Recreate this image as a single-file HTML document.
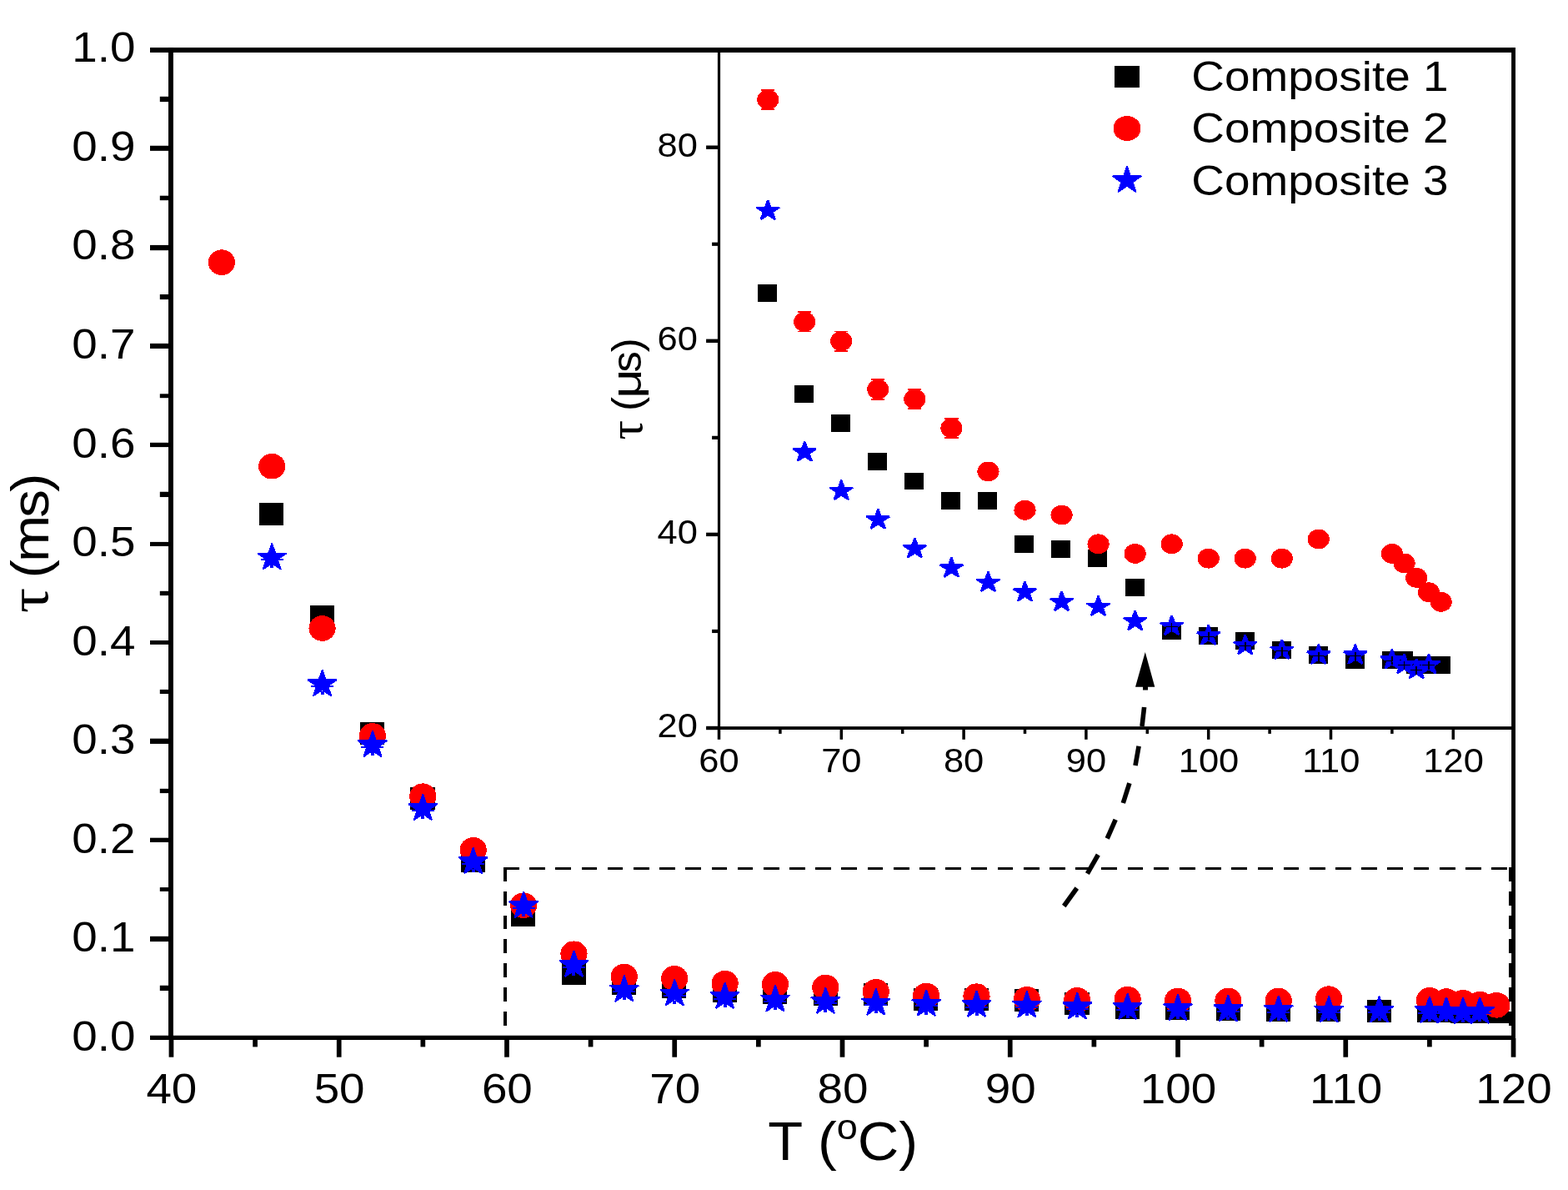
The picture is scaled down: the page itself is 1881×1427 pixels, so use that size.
<!DOCTYPE html>
<html lang="en">
<head>
<meta charset="utf-8">
<title>Relaxation time vs temperature</title>
<style>
html,body{margin:0;padding:0;background:#fff;}
body{width:1881px;height:1427px;overflow:hidden;}
svg{display:block;}
</style>
</head>
<body>
<svg width="1881" height="1427" viewBox="0 0 1881 1427">
<rect width="1881" height="1427" fill="#fff"/>
<g shape-rendering="crispEdges">
<rect x="311.36" y="602.81" width="29.10" height="27.00" fill="#000"/>
<rect x="371.73" y="725.75" width="29.10" height="27.00" fill="#000"/>
<rect x="432.11" y="865.51" width="29.10" height="27.00" fill="#000"/>
<rect x="492.49" y="943.80" width="29.10" height="27.00" fill="#000"/>
<rect x="552.87" y="1018.54" width="29.10" height="27.00" fill="#000"/>
<rect x="613.25" y="1084.03" width="29.10" height="27.00" fill="#000"/>
<rect x="673.62" y="1153.91" width="29.10" height="27.00" fill="#000"/>
<rect x="734.00" y="1166.35" width="29.10" height="27.00" fill="#000"/>
<rect x="794.38" y="1169.90" width="29.10" height="27.00" fill="#000"/>
<rect x="854.76" y="1174.64" width="29.10" height="27.00" fill="#000"/>
<rect x="915.14" y="1177.01" width="29.10" height="27.00" fill="#000"/>
<rect x="975.51" y="1179.38" width="29.10" height="27.00" fill="#000"/>
<rect x="1035.89" y="1179.38" width="29.10" height="27.00" fill="#000"/>
<rect x="1096.27" y="1184.71" width="29.10" height="27.00" fill="#000"/>
<rect x="1156.65" y="1185.30" width="29.10" height="27.00" fill="#000"/>
<rect x="1217.03" y="1186.49" width="29.10" height="27.00" fill="#000"/>
<rect x="1277.40" y="1190.04" width="29.10" height="27.00" fill="#000"/>
<rect x="1337.78" y="1195.37" width="29.10" height="27.00" fill="#000"/>
<rect x="1398.16" y="1195.96" width="29.10" height="27.00" fill="#000"/>
<rect x="1458.54" y="1196.55" width="29.10" height="27.00" fill="#000"/>
<rect x="1518.92" y="1197.74" width="29.10" height="27.00" fill="#000"/>
<rect x="1579.29" y="1198.33" width="29.10" height="27.00" fill="#000"/>
<rect x="1639.67" y="1198.92" width="29.10" height="27.00" fill="#000"/>
<rect x="1700.05" y="1198.92" width="29.10" height="27.00" fill="#000"/>
<rect x="1720.18" y="1198.92" width="29.10" height="27.00" fill="#000"/>
<rect x="1740.30" y="1199.51" width="29.10" height="27.00" fill="#000"/>
<rect x="1760.43" y="1199.51" width="29.10" height="27.00" fill="#000"/>
<rect x="1780.55" y="1199.51" width="29.10" height="27.00" fill="#000"/>
<ellipse cx="265.83" cy="314.65" rx="16.10" ry="15.30" fill="#ff0000"/>
<ellipse cx="326.21" cy="559.22" rx="16.10" ry="15.30" fill="#ff0000"/>
<ellipse cx="386.58" cy="753.47" rx="16.10" ry="15.30" fill="#ff0000"/>
<ellipse cx="446.96" cy="882.45" rx="16.10" ry="15.30" fill="#ff0000"/>
<ellipse cx="507.34" cy="954.70" rx="16.10" ry="15.30" fill="#ff0000"/>
<ellipse cx="567.72" cy="1019.36" rx="16.10" ry="15.30" fill="#ff0000"/>
<ellipse cx="628.10" cy="1085.69" rx="16.10" ry="15.30" fill="#ff0000"/>
<ellipse cx="688.47" cy="1143.73" rx="16.10" ry="15.30" fill="#ff0000"/>
<ellipse cx="748.85" cy="1170.97" rx="16.10" ry="15.30" fill="#ff0000"/>
<ellipse cx="809.23" cy="1173.34" rx="16.10" ry="15.30" fill="#ff0000"/>
<ellipse cx="869.61" cy="1179.26" rx="16.10" ry="15.30" fill="#ff0000"/>
<ellipse cx="929.99" cy="1180.44" rx="16.10" ry="15.30" fill="#ff0000"/>
<ellipse cx="990.36" cy="1184.00" rx="16.10" ry="15.30" fill="#ff0000"/>
<ellipse cx="1050.74" cy="1189.33" rx="16.10" ry="15.30" fill="#ff0000"/>
<ellipse cx="1111.12" cy="1194.06" rx="16.10" ry="15.30" fill="#ff0000"/>
<ellipse cx="1171.50" cy="1194.66" rx="16.10" ry="15.30" fill="#ff0000"/>
<ellipse cx="1231.88" cy="1198.21" rx="16.10" ry="15.30" fill="#ff0000"/>
<ellipse cx="1292.25" cy="1199.39" rx="16.10" ry="15.30" fill="#ff0000"/>
<ellipse cx="1352.63" cy="1198.21" rx="16.10" ry="15.30" fill="#ff0000"/>
<ellipse cx="1413.01" cy="1199.99" rx="16.10" ry="15.30" fill="#ff0000"/>
<ellipse cx="1473.39" cy="1199.99" rx="16.10" ry="15.30" fill="#ff0000"/>
<ellipse cx="1533.77" cy="1199.99" rx="16.10" ry="15.30" fill="#ff0000"/>
<ellipse cx="1594.14" cy="1197.62" rx="16.10" ry="15.30" fill="#ff0000"/>
<ellipse cx="1714.90" cy="1199.39" rx="16.10" ry="15.30" fill="#ff0000"/>
<ellipse cx="1735.03" cy="1200.58" rx="16.10" ry="15.30" fill="#ff0000"/>
<ellipse cx="1755.15" cy="1202.35" rx="16.10" ry="15.30" fill="#ff0000"/>
<ellipse cx="1775.28" cy="1204.13" rx="16.10" ry="15.30" fill="#ff0000"/>
<ellipse cx="1795.40" cy="1205.31" rx="16.10" ry="15.30" fill="#ff0000"/>
<polygon points="326.21,651.58 330.31,663.47 343.61,663.47 332.85,670.81 336.96,682.70 326.21,675.35 315.45,682.70 319.56,670.81 308.80,663.47 322.10,663.47" fill="#0000ff" stroke="#0000ff" stroke-width="1.75" stroke-linejoin="bevel"/>
<rect x="312.71" y="670.08" width="27.00" height="2.00" fill="#0000ff"/>
<rect x="324.21" y="676.78" width="4.00" height="4.40" fill="#0000ff"/>
<polygon points="386.58,803.42 390.69,815.31 403.99,815.31 393.23,822.65 397.34,834.54 386.58,827.19 375.83,834.54 379.94,822.65 369.18,815.31 382.48,815.31" fill="#0000ff" stroke="#0000ff" stroke-width="1.75" stroke-linejoin="bevel"/>
<rect x="373.08" y="821.92" width="27.00" height="2.00" fill="#0000ff"/>
<rect x="384.58" y="828.62" width="4.00" height="4.40" fill="#0000ff"/>
<polygon points="446.96,876.26 451.07,888.15 464.37,888.15 453.61,895.49 457.72,907.38 446.96,900.03 436.21,907.38 440.31,895.49 429.56,888.15 442.85,888.15" fill="#0000ff" stroke="#0000ff" stroke-width="1.75" stroke-linejoin="bevel"/>
<rect x="433.46" y="894.76" width="27.00" height="2.00" fill="#0000ff"/>
<rect x="444.96" y="901.46" width="4.00" height="4.40" fill="#0000ff"/>
<polygon points="507.34,952.18 511.45,964.07 524.74,964.07 513.99,971.41 518.10,983.30 507.34,975.95 496.58,983.30 500.69,971.41 489.94,964.07 503.23,964.07" fill="#0000ff" stroke="#0000ff" stroke-width="1.75" stroke-linejoin="bevel"/>
<rect x="493.84" y="970.68" width="27.00" height="2.00" fill="#0000ff"/>
<rect x="505.34" y="977.38" width="4.00" height="4.40" fill="#0000ff"/>
<polygon points="567.72,1016.38 571.83,1028.26 585.12,1028.26 574.37,1035.61 578.47,1047.49 567.72,1040.15 556.96,1047.49 561.07,1035.61 550.31,1028.26 563.61,1028.26" fill="#0000ff" stroke="#0000ff" stroke-width="1.75" stroke-linejoin="bevel"/>
<rect x="554.22" y="1034.88" width="27.00" height="2.00" fill="#0000ff"/>
<rect x="565.72" y="1041.58" width="4.00" height="4.40" fill="#0000ff"/>
<polygon points="628.10,1069.20 632.20,1081.09 645.50,1081.09 634.74,1088.43 638.85,1100.32 628.10,1092.97 617.34,1100.32 621.45,1088.43 610.69,1081.09 623.99,1081.09" fill="#0000ff" stroke="#0000ff" stroke-width="1.75" stroke-linejoin="bevel"/>
<rect x="614.60" y="1087.70" width="27.00" height="2.00" fill="#0000ff"/>
<rect x="626.10" y="1094.40" width="4.00" height="4.40" fill="#0000ff"/>
<polygon points="688.47,1140.15 692.58,1152.03 705.88,1152.03 695.12,1159.38 699.23,1171.26 688.47,1163.92 677.72,1171.26 681.83,1159.38 671.07,1152.03 684.37,1152.03" fill="#0000ff" stroke="#0000ff" stroke-width="1.75" stroke-linejoin="bevel"/>
<rect x="674.97" y="1158.65" width="27.00" height="2.00" fill="#0000ff"/>
<rect x="686.47" y="1165.35" width="4.00" height="4.40" fill="#0000ff"/>
<polygon points="748.85,1169.76 752.96,1181.64 766.26,1181.64 755.50,1188.99 759.61,1200.87 748.85,1193.53 738.10,1200.87 742.20,1188.99 731.45,1181.64 744.74,1181.64" fill="#0000ff" stroke="#0000ff" stroke-width="1.75" stroke-linejoin="bevel"/>
<rect x="735.35" y="1188.26" width="27.00" height="2.00" fill="#0000ff"/>
<rect x="746.85" y="1194.96" width="4.00" height="4.40" fill="#0000ff"/>
<polygon points="809.23,1174.49 813.34,1186.38 826.63,1186.38 815.88,1193.72 819.99,1205.61 809.23,1198.26 798.47,1205.61 802.58,1193.72 791.83,1186.38 805.12,1186.38" fill="#0000ff" stroke="#0000ff" stroke-width="1.75" stroke-linejoin="bevel"/>
<rect x="795.73" y="1192.99" width="27.00" height="2.00" fill="#0000ff"/>
<rect x="807.23" y="1199.69" width="4.00" height="4.40" fill="#0000ff"/>
<polygon points="869.61,1178.05 873.72,1189.93 887.01,1189.93 876.26,1197.28 880.36,1209.16 869.61,1201.82 858.85,1209.16 862.96,1197.28 852.20,1189.93 865.50,1189.93" fill="#0000ff" stroke="#0000ff" stroke-width="1.75" stroke-linejoin="bevel"/>
<rect x="856.11" y="1196.55" width="27.00" height="2.00" fill="#0000ff"/>
<rect x="867.61" y="1203.25" width="4.00" height="4.40" fill="#0000ff"/>
<polygon points="929.99,1181.60 934.09,1193.49 947.39,1193.49 936.63,1200.83 940.74,1212.72 929.99,1205.37 919.23,1212.72 923.34,1200.83 912.58,1193.49 925.88,1193.49" fill="#0000ff" stroke="#0000ff" stroke-width="1.75" stroke-linejoin="bevel"/>
<rect x="916.49" y="1200.10" width="27.00" height="2.00" fill="#0000ff"/>
<rect x="927.99" y="1206.80" width="4.00" height="4.40" fill="#0000ff"/>
<polygon points="990.36,1183.97 994.47,1195.85 1007.77,1195.85 997.01,1203.20 1001.12,1215.08 990.36,1207.74 979.61,1215.08 983.72,1203.20 972.96,1195.85 986.26,1195.85" fill="#0000ff" stroke="#0000ff" stroke-width="1.75" stroke-linejoin="bevel"/>
<rect x="976.86" y="1202.47" width="27.00" height="2.00" fill="#0000ff"/>
<rect x="988.36" y="1209.17" width="4.00" height="4.40" fill="#0000ff"/>
<polygon points="1050.74,1185.75 1054.85,1197.63 1068.15,1197.63 1057.39,1204.98 1061.50,1216.86 1050.74,1209.52 1039.99,1216.86 1044.09,1204.98 1033.34,1197.63 1046.63,1197.63" fill="#0000ff" stroke="#0000ff" stroke-width="1.75" stroke-linejoin="bevel"/>
<rect x="1037.24" y="1204.25" width="27.00" height="2.00" fill="#0000ff"/>
<rect x="1048.74" y="1210.95" width="4.00" height="4.40" fill="#0000ff"/>
<polygon points="1111.12,1186.93 1115.23,1198.81 1128.52,1198.82 1117.77,1206.16 1121.88,1218.05 1111.12,1210.70 1100.36,1218.05 1104.47,1206.16 1093.72,1198.82 1107.01,1198.81" fill="#0000ff" stroke="#0000ff" stroke-width="1.75" stroke-linejoin="bevel"/>
<rect x="1097.62" y="1205.43" width="27.00" height="2.00" fill="#0000ff"/>
<rect x="1109.12" y="1212.13" width="4.00" height="4.40" fill="#0000ff"/>
<polygon points="1171.50,1188.11 1175.61,1200.00 1188.90,1200.00 1178.15,1207.35 1182.25,1219.23 1171.50,1211.89 1160.74,1219.23 1164.85,1207.35 1154.09,1200.00 1167.39,1200.00" fill="#0000ff" stroke="#0000ff" stroke-width="1.75" stroke-linejoin="bevel"/>
<rect x="1158.00" y="1206.61" width="27.00" height="2.00" fill="#0000ff"/>
<rect x="1169.50" y="1213.31" width="4.00" height="4.40" fill="#0000ff"/>
<polygon points="1231.88,1188.71 1235.98,1200.59 1249.28,1200.59 1238.52,1207.94 1242.63,1219.82 1231.88,1212.48 1221.12,1219.82 1225.23,1207.94 1214.47,1200.59 1227.77,1200.59" fill="#0000ff" stroke="#0000ff" stroke-width="1.75" stroke-linejoin="bevel"/>
<rect x="1218.38" y="1207.21" width="27.00" height="2.00" fill="#0000ff"/>
<rect x="1229.88" y="1213.91" width="4.00" height="4.40" fill="#0000ff"/>
<polygon points="1292.25,1190.48 1296.36,1202.37 1309.66,1202.37 1298.90,1209.71 1303.01,1221.60 1292.25,1214.25 1281.50,1221.60 1285.61,1209.71 1274.85,1202.37 1288.15,1202.37" fill="#0000ff" stroke="#0000ff" stroke-width="1.75" stroke-linejoin="bevel"/>
<rect x="1278.75" y="1208.98" width="27.00" height="2.00" fill="#0000ff"/>
<rect x="1290.25" y="1215.68" width="4.00" height="4.40" fill="#0000ff"/>
<polygon points="1352.63,1191.08 1356.74,1202.96 1370.04,1202.96 1359.28,1210.31 1363.39,1222.19 1352.63,1214.85 1341.88,1222.19 1345.98,1210.31 1335.23,1202.96 1348.52,1202.96" fill="#0000ff" stroke="#0000ff" stroke-width="1.75" stroke-linejoin="bevel"/>
<rect x="1339.13" y="1209.58" width="27.00" height="2.00" fill="#0000ff"/>
<rect x="1350.63" y="1216.28" width="4.00" height="4.40" fill="#0000ff"/>
<polygon points="1413.01,1192.26 1417.12,1204.14 1430.41,1204.15 1419.66,1211.49 1423.77,1223.38 1413.01,1216.03 1402.25,1223.38 1406.36,1211.49 1395.61,1204.15 1408.90,1204.14" fill="#0000ff" stroke="#0000ff" stroke-width="1.75" stroke-linejoin="bevel"/>
<rect x="1399.51" y="1210.76" width="27.00" height="2.00" fill="#0000ff"/>
<rect x="1411.01" y="1217.46" width="4.00" height="4.40" fill="#0000ff"/>
<polygon points="1473.39,1193.44 1477.50,1205.33 1490.79,1205.33 1480.04,1212.67 1484.14,1224.56 1473.39,1217.22 1462.63,1224.56 1466.74,1212.67 1455.98,1205.33 1469.28,1205.33" fill="#0000ff" stroke="#0000ff" stroke-width="1.75" stroke-linejoin="bevel"/>
<rect x="1459.89" y="1211.94" width="27.00" height="2.00" fill="#0000ff"/>
<rect x="1471.39" y="1218.64" width="4.00" height="4.40" fill="#0000ff"/>
<polygon points="1533.77,1194.04 1537.87,1205.92 1551.17,1205.92 1540.41,1213.27 1544.52,1225.15 1533.77,1217.81 1523.01,1225.15 1527.12,1213.27 1516.36,1205.92 1529.66,1205.92" fill="#0000ff" stroke="#0000ff" stroke-width="1.75" stroke-linejoin="bevel"/>
<rect x="1520.27" y="1212.54" width="27.00" height="2.00" fill="#0000ff"/>
<rect x="1531.77" y="1219.24" width="4.00" height="4.40" fill="#0000ff"/>
<polygon points="1594.14,1194.63 1598.25,1206.51 1611.55,1206.51 1600.79,1213.86 1604.90,1225.74 1594.14,1218.40 1583.39,1225.74 1587.50,1213.86 1576.74,1206.51 1590.04,1206.51" fill="#0000ff" stroke="#0000ff" stroke-width="1.75" stroke-linejoin="bevel"/>
<rect x="1580.64" y="1213.13" width="27.00" height="2.00" fill="#0000ff"/>
<rect x="1592.14" y="1219.83" width="4.00" height="4.40" fill="#0000ff"/>
<polygon points="1654.52,1194.63 1658.63,1206.51 1671.93,1206.51 1661.17,1213.86 1665.28,1225.74 1654.52,1218.40 1643.77,1225.74 1647.87,1213.86 1637.12,1206.51 1650.41,1206.51" fill="#0000ff" stroke="#0000ff" stroke-width="1.75" stroke-linejoin="bevel"/>
<rect x="1641.02" y="1213.13" width="27.00" height="2.00" fill="#0000ff"/>
<rect x="1652.52" y="1219.83" width="4.00" height="4.40" fill="#0000ff"/>
<polygon points="1714.90,1195.22 1719.01,1207.11 1732.30,1207.11 1721.55,1214.45 1725.66,1226.34 1714.90,1218.99 1704.14,1226.34 1708.25,1214.45 1697.50,1207.11 1710.79,1207.11" fill="#0000ff" stroke="#0000ff" stroke-width="1.75" stroke-linejoin="bevel"/>
<rect x="1701.40" y="1213.72" width="27.00" height="2.00" fill="#0000ff"/>
<rect x="1712.90" y="1220.42" width="4.00" height="4.40" fill="#0000ff"/>
<polygon points="1735.03,1195.81 1739.13,1207.70 1752.43,1207.70 1741.67,1215.04 1745.78,1226.93 1735.03,1219.58 1724.27,1226.93 1728.38,1215.04 1717.62,1207.70 1730.92,1207.70" fill="#0000ff" stroke="#0000ff" stroke-width="1.75" stroke-linejoin="bevel"/>
<rect x="1721.53" y="1214.31" width="27.00" height="2.00" fill="#0000ff"/>
<rect x="1733.03" y="1221.01" width="4.00" height="4.40" fill="#0000ff"/>
<polygon points="1755.15,1196.41 1759.26,1208.29 1772.56,1208.29 1761.80,1215.64 1765.91,1227.52 1755.15,1220.18 1744.40,1227.52 1748.50,1215.64 1737.75,1208.29 1751.04,1208.29" fill="#0000ff" stroke="#0000ff" stroke-width="1.75" stroke-linejoin="bevel"/>
<rect x="1741.65" y="1214.91" width="27.00" height="2.00" fill="#0000ff"/>
<rect x="1753.15" y="1221.61" width="4.00" height="4.40" fill="#0000ff"/>
<polygon points="1775.28,1195.81 1779.39,1207.70 1792.68,1207.70 1781.93,1215.04 1786.03,1226.93 1775.28,1219.58 1764.52,1226.93 1768.63,1215.04 1757.87,1207.70 1771.17,1207.70" fill="#0000ff" stroke="#0000ff" stroke-width="1.75" stroke-linejoin="bevel"/>
<rect x="1761.78" y="1214.31" width="27.00" height="2.00" fill="#0000ff"/>
<rect x="1773.28" y="1221.01" width="4.00" height="4.40" fill="#0000ff"/>
<rect x="604.00" y="1039.80" width="18.70" height="3.40" fill="#000"/>
<rect x="635.19" y="1039.80" width="18.70" height="3.40" fill="#000"/>
<rect x="666.38" y="1039.80" width="18.70" height="3.40" fill="#000"/>
<rect x="697.57" y="1039.80" width="18.70" height="3.40" fill="#000"/>
<rect x="728.76" y="1039.80" width="18.70" height="3.40" fill="#000"/>
<rect x="759.95" y="1039.80" width="18.70" height="3.40" fill="#000"/>
<rect x="791.14" y="1039.80" width="18.70" height="3.40" fill="#000"/>
<rect x="822.33" y="1039.80" width="18.70" height="3.40" fill="#000"/>
<rect x="853.52" y="1039.80" width="18.70" height="3.40" fill="#000"/>
<rect x="884.71" y="1039.80" width="18.70" height="3.40" fill="#000"/>
<rect x="915.90" y="1039.80" width="18.70" height="3.40" fill="#000"/>
<rect x="947.09" y="1039.80" width="18.70" height="3.40" fill="#000"/>
<rect x="978.28" y="1039.80" width="18.70" height="3.40" fill="#000"/>
<rect x="1009.47" y="1039.80" width="18.70" height="3.40" fill="#000"/>
<rect x="1040.66" y="1039.80" width="18.70" height="3.40" fill="#000"/>
<rect x="1071.85" y="1039.80" width="18.70" height="3.40" fill="#000"/>
<rect x="1103.04" y="1039.80" width="18.70" height="3.40" fill="#000"/>
<rect x="1134.23" y="1039.80" width="18.70" height="3.40" fill="#000"/>
<rect x="1165.42" y="1039.80" width="18.70" height="3.40" fill="#000"/>
<rect x="1196.61" y="1039.80" width="18.70" height="3.40" fill="#000"/>
<rect x="1227.80" y="1039.80" width="18.70" height="3.40" fill="#000"/>
<rect x="1258.99" y="1039.80" width="18.70" height="3.40" fill="#000"/>
<rect x="1290.18" y="1039.80" width="18.70" height="3.40" fill="#000"/>
<rect x="1321.37" y="1039.80" width="18.70" height="3.40" fill="#000"/>
<rect x="1352.56" y="1039.80" width="18.70" height="3.40" fill="#000"/>
<rect x="1383.75" y="1039.80" width="18.70" height="3.40" fill="#000"/>
<rect x="1414.94" y="1039.80" width="18.70" height="3.40" fill="#000"/>
<rect x="1446.13" y="1039.80" width="18.70" height="3.40" fill="#000"/>
<rect x="1477.32" y="1039.80" width="18.70" height="3.40" fill="#000"/>
<rect x="1508.51" y="1039.80" width="18.70" height="3.40" fill="#000"/>
<rect x="1539.70" y="1039.80" width="18.70" height="3.40" fill="#000"/>
<rect x="1570.89" y="1039.80" width="18.70" height="3.40" fill="#000"/>
<rect x="1602.08" y="1039.80" width="18.70" height="3.40" fill="#000"/>
<rect x="1633.27" y="1039.80" width="18.70" height="3.40" fill="#000"/>
<rect x="1664.46" y="1039.80" width="18.70" height="3.40" fill="#000"/>
<rect x="1695.65" y="1039.80" width="18.70" height="3.40" fill="#000"/>
<rect x="1726.84" y="1039.80" width="18.70" height="3.40" fill="#000"/>
<rect x="1758.03" y="1039.80" width="18.70" height="3.40" fill="#000"/>
<rect x="1789.22" y="1039.80" width="18.70" height="3.40" fill="#000"/>
<rect x="604.10" y="1040.00" width="3.80" height="16.70" fill="#000"/>
<rect x="604.10" y="1068.80" width="3.80" height="16.70" fill="#000"/>
<rect x="604.10" y="1097.60" width="3.80" height="16.70" fill="#000"/>
<rect x="604.10" y="1126.40" width="3.80" height="16.70" fill="#000"/>
<rect x="604.10" y="1155.20" width="3.80" height="16.70" fill="#000"/>
<rect x="604.10" y="1184.00" width="3.80" height="16.70" fill="#000"/>
<rect x="604.10" y="1212.80" width="3.80" height="16.70" fill="#000"/>
<rect x="604.10" y="1241.60" width="3.80" height="0.40" fill="#000"/>
<rect x="1810.30" y="1040.00" width="3.80" height="16.70" fill="#000"/>
<rect x="1810.30" y="1068.80" width="3.80" height="16.70" fill="#000"/>
<rect x="1810.30" y="1097.60" width="3.80" height="16.70" fill="#000"/>
<rect x="1810.30" y="1126.40" width="3.80" height="16.70" fill="#000"/>
<rect x="1810.30" y="1155.20" width="3.80" height="16.70" fill="#000"/>
<rect x="1810.30" y="1184.00" width="3.80" height="16.70" fill="#000"/>
<rect x="1810.30" y="1212.80" width="3.80" height="16.70" fill="#000"/>
<rect x="1810.30" y="1241.60" width="3.80" height="0.40" fill="#000"/>
</g><g>
<rect x="202.00" y="57.05" width="5.90" height="1189.95" fill="#000"/>
<rect x="1813.10" y="57.05" width="4.90" height="1189.95" fill="#000"/>
<rect x="180.00" y="57.05" width="1638.00" height="5.95" fill="#000"/>
<rect x="180.00" y="1241.75" width="1638.00" height="5.25" fill="#000"/>
<rect x="191.80" y="1181.75" width="11.20" height="6.30" fill="#000"/>
<rect x="180.00" y="1122.80" width="23.00" height="6.30" fill="#000"/>
<rect x="191.80" y="1064.10" width="11.20" height="4.80" fill="#000"/>
<rect x="180.00" y="1004.70" width="23.00" height="5.30" fill="#000"/>
<rect x="191.80" y="945.80" width="11.20" height="5.30" fill="#000"/>
<rect x="180.00" y="885.65" width="23.00" height="6.30" fill="#000"/>
<rect x="191.80" y="826.90" width="11.20" height="5.10" fill="#000"/>
<rect x="180.00" y="768.00" width="23.00" height="4.90" fill="#000"/>
<rect x="191.80" y="708.80" width="11.20" height="5.30" fill="#000"/>
<rect x="180.00" y="649.90" width="23.00" height="5.10" fill="#000"/>
<rect x="191.80" y="589.75" width="11.20" height="6.30" fill="#000"/>
<rect x="180.00" y="530.80" width="23.00" height="5.30" fill="#000"/>
<rect x="191.80" y="472.30" width="11.20" height="4.90" fill="#000"/>
<rect x="180.00" y="411.90" width="23.00" height="6.10" fill="#000"/>
<rect x="191.80" y="353.00" width="11.20" height="6.10" fill="#000"/>
<rect x="180.00" y="293.90" width="23.00" height="6.30" fill="#000"/>
<rect x="191.80" y="234.70" width="11.20" height="5.50" fill="#000"/>
<rect x="180.00" y="174.75" width="23.00" height="6.10" fill="#000"/>
<rect x="191.80" y="115.80" width="11.20" height="6.30" fill="#000"/>
<rect x="202.60" y="1245.00" width="5.70" height="22.70" fill="#000"/>
<rect x="303.23" y="1245.00" width="5.70" height="10.40" fill="#000"/>
<rect x="403.86" y="1245.00" width="5.70" height="22.70" fill="#000"/>
<rect x="504.49" y="1245.00" width="5.70" height="10.40" fill="#000"/>
<rect x="605.12" y="1245.00" width="5.70" height="22.70" fill="#000"/>
<rect x="705.75" y="1245.00" width="5.70" height="10.40" fill="#000"/>
<rect x="806.38" y="1245.00" width="5.70" height="22.70" fill="#000"/>
<rect x="907.01" y="1245.00" width="5.70" height="10.40" fill="#000"/>
<rect x="1007.64" y="1245.00" width="5.70" height="22.70" fill="#000"/>
<rect x="1108.27" y="1245.00" width="5.70" height="10.40" fill="#000"/>
<rect x="1208.90" y="1245.00" width="5.70" height="22.70" fill="#000"/>
<rect x="1309.53" y="1245.00" width="5.70" height="10.40" fill="#000"/>
<rect x="1410.16" y="1245.00" width="5.70" height="22.70" fill="#000"/>
<rect x="1510.79" y="1245.00" width="5.70" height="10.40" fill="#000"/>
<rect x="1611.42" y="1245.00" width="5.70" height="22.70" fill="#000"/>
<rect x="1712.05" y="1245.00" width="5.70" height="10.40" fill="#000"/>
<rect x="1812.68" y="1245.00" width="5.70" height="22.70" fill="#000"/>
<rect x="860.90" y="60.00" width="3.20" height="815.00" fill="#000"/>
<rect x="860.90" y="871.15" width="953.10" height="3.85" fill="#000"/>
<rect x="847.10" y="870.80" width="14.40" height="4.40" fill="#000"/>
<rect x="854.10" y="754.85" width="7.40" height="4.20" fill="#000"/>
<rect x="847.10" y="638.70" width="14.40" height="4.40" fill="#000"/>
<rect x="854.10" y="522.75" width="7.40" height="4.20" fill="#000"/>
<rect x="847.10" y="406.60" width="14.40" height="4.40" fill="#000"/>
<rect x="854.10" y="290.65" width="7.40" height="4.20" fill="#000"/>
<rect x="847.10" y="174.50" width="14.40" height="4.40" fill="#000"/>
<rect x="860.75" y="873.00" width="3.50" height="13.80" fill="#000"/>
<rect x="934.15" y="873.00" width="3.50" height="6.90" fill="#000"/>
<rect x="1007.55" y="873.00" width="3.50" height="13.80" fill="#000"/>
<rect x="1080.95" y="873.00" width="3.50" height="6.90" fill="#000"/>
<rect x="1154.35" y="873.00" width="3.50" height="13.80" fill="#000"/>
<rect x="1227.75" y="873.00" width="3.50" height="6.90" fill="#000"/>
<rect x="1301.15" y="873.00" width="3.50" height="13.80" fill="#000"/>
<rect x="1374.55" y="873.00" width="3.50" height="6.90" fill="#000"/>
<rect x="1447.95" y="873.00" width="3.50" height="13.80" fill="#000"/>
<rect x="1521.35" y="873.00" width="3.50" height="6.90" fill="#000"/>
<rect x="1594.75" y="873.00" width="3.50" height="13.80" fill="#000"/>
<rect x="1668.15" y="873.00" width="3.50" height="6.90" fill="#000"/>
<rect x="1741.55" y="873.00" width="3.50" height="13.80" fill="#000"/>
</g><g shape-rendering="crispEdges">
<rect x="909.12" y="340.76" width="23.00" height="20.80" fill="#000"/>
<rect x="953.16" y="462.39" width="23.00" height="20.80" fill="#000"/>
<rect x="997.20" y="497.14" width="23.00" height="20.80" fill="#000"/>
<rect x="1041.24" y="543.47" width="23.00" height="20.80" fill="#000"/>
<rect x="1085.28" y="566.63" width="23.00" height="20.80" fill="#000"/>
<rect x="1129.32" y="589.80" width="23.00" height="20.80" fill="#000"/>
<rect x="1173.36" y="589.80" width="23.00" height="20.80" fill="#000"/>
<rect x="1217.40" y="641.92" width="23.00" height="20.80" fill="#000"/>
<rect x="1261.44" y="647.71" width="23.00" height="20.80" fill="#000"/>
<rect x="1305.48" y="659.30" width="23.00" height="20.80" fill="#000"/>
<rect x="1349.52" y="694.05" width="23.00" height="20.80" fill="#000"/>
<rect x="1393.56" y="746.17" width="23.00" height="20.80" fill="#000"/>
<rect x="1437.60" y="751.96" width="23.00" height="20.80" fill="#000"/>
<rect x="1481.64" y="757.75" width="23.00" height="20.80" fill="#000"/>
<rect x="1525.68" y="769.34" width="23.00" height="20.80" fill="#000"/>
<rect x="1569.72" y="775.13" width="23.00" height="20.80" fill="#000"/>
<rect x="1613.76" y="780.92" width="23.00" height="20.80" fill="#000"/>
<rect x="1657.80" y="780.92" width="23.00" height="20.80" fill="#000"/>
<rect x="1672.48" y="780.92" width="23.00" height="20.80" fill="#000"/>
<rect x="1687.16" y="786.71" width="23.00" height="20.80" fill="#000"/>
<rect x="1701.84" y="786.71" width="23.00" height="20.80" fill="#000"/>
<rect x="1716.52" y="786.71" width="23.00" height="20.80" fill="#000"/>
<rect x="913.12" y="106.95" width="16.20" height="1.95" fill="#ff0000"/>
<rect x="913.12" y="130.10" width="16.20" height="1.95" fill="#ff0000"/>
<ellipse cx="921.22" cy="119.50" rx="13.10" ry="11.90" fill="#ff0000"/>
<rect x="957.16" y="373.36" width="16.20" height="1.95" fill="#ff0000"/>
<rect x="957.16" y="396.51" width="16.20" height="1.95" fill="#ff0000"/>
<ellipse cx="965.26" cy="385.91" rx="13.10" ry="11.90" fill="#ff0000"/>
<rect x="1001.20" y="396.53" width="16.20" height="1.95" fill="#ff0000"/>
<rect x="1001.20" y="419.68" width="16.20" height="1.95" fill="#ff0000"/>
<ellipse cx="1009.30" cy="409.08" rx="13.10" ry="11.90" fill="#ff0000"/>
<rect x="1045.24" y="454.44" width="16.20" height="1.95" fill="#ff0000"/>
<rect x="1045.24" y="477.59" width="16.20" height="1.95" fill="#ff0000"/>
<ellipse cx="1053.34" cy="466.99" rx="13.10" ry="11.90" fill="#ff0000"/>
<rect x="1089.28" y="466.03" width="16.20" height="1.95" fill="#ff0000"/>
<rect x="1089.28" y="489.18" width="16.20" height="1.95" fill="#ff0000"/>
<ellipse cx="1097.38" cy="478.58" rx="13.10" ry="11.90" fill="#ff0000"/>
<rect x="1133.32" y="500.78" width="16.20" height="1.95" fill="#ff0000"/>
<rect x="1133.32" y="523.93" width="16.20" height="1.95" fill="#ff0000"/>
<ellipse cx="1141.42" cy="513.33" rx="13.10" ry="11.90" fill="#ff0000"/>
<ellipse cx="1185.46" cy="565.45" rx="13.10" ry="11.90" fill="#ff0000"/>
<ellipse cx="1229.50" cy="611.78" rx="13.10" ry="11.90" fill="#ff0000"/>
<ellipse cx="1273.54" cy="617.57" rx="13.10" ry="11.90" fill="#ff0000"/>
<ellipse cx="1317.58" cy="652.32" rx="13.10" ry="11.90" fill="#ff0000"/>
<ellipse cx="1361.62" cy="663.91" rx="13.10" ry="11.90" fill="#ff0000"/>
<ellipse cx="1405.66" cy="652.32" rx="13.10" ry="11.90" fill="#ff0000"/>
<ellipse cx="1449.70" cy="669.70" rx="13.10" ry="11.90" fill="#ff0000"/>
<ellipse cx="1493.74" cy="669.70" rx="13.10" ry="11.90" fill="#ff0000"/>
<ellipse cx="1537.78" cy="669.70" rx="13.10" ry="11.90" fill="#ff0000"/>
<ellipse cx="1581.82" cy="646.53" rx="13.10" ry="11.90" fill="#ff0000"/>
<ellipse cx="1669.90" cy="663.91" rx="13.10" ry="11.90" fill="#ff0000"/>
<ellipse cx="1684.58" cy="675.49" rx="13.10" ry="11.90" fill="#ff0000"/>
<ellipse cx="1699.26" cy="692.86" rx="13.10" ry="11.90" fill="#ff0000"/>
<ellipse cx="1713.94" cy="710.24" rx="13.10" ry="11.90" fill="#ff0000"/>
<ellipse cx="1728.62" cy="721.82" rx="13.10" ry="11.90" fill="#ff0000"/>
<polygon points="921.22,239.91 924.48,248.75 935.01,248.75 926.49,254.22 929.74,263.06 921.22,257.60 912.70,263.06 915.95,254.22 907.43,248.75 917.96,248.75" fill="#0000ff" stroke="#0000ff" stroke-width="2.3" stroke-linejoin="bevel"/>
<polygon points="965.26,529.48 968.52,538.33 979.05,538.33 970.53,543.80 973.78,552.64 965.26,547.17 956.74,552.64 959.99,543.80 951.47,538.33 962.00,538.33" fill="#0000ff" stroke="#0000ff" stroke-width="2.3" stroke-linejoin="bevel"/>
<polygon points="1009.30,575.82 1012.56,584.66 1023.09,584.66 1014.57,590.13 1017.82,598.97 1009.30,593.51 1000.78,598.97 1004.03,590.13 995.51,584.66 1006.04,584.66" fill="#0000ff" stroke="#0000ff" stroke-width="2.3" stroke-linejoin="bevel"/>
<polygon points="1053.34,610.57 1056.60,619.41 1067.13,619.41 1058.61,624.88 1061.86,633.72 1053.34,628.26 1044.82,633.72 1048.07,624.88 1039.55,619.41 1050.08,619.41" fill="#0000ff" stroke="#0000ff" stroke-width="2.3" stroke-linejoin="bevel"/>
<polygon points="1097.38,645.31 1100.64,654.16 1111.17,654.16 1102.65,659.63 1105.90,668.47 1097.38,663.00 1088.86,668.47 1092.11,659.63 1083.59,654.16 1094.12,654.16" fill="#0000ff" stroke="#0000ff" stroke-width="2.3" stroke-linejoin="bevel"/>
<polygon points="1141.42,668.48 1144.68,677.32 1155.21,677.33 1146.69,682.79 1149.94,691.64 1141.42,686.17 1132.90,691.64 1136.15,682.79 1127.63,677.33 1138.16,677.32" fill="#0000ff" stroke="#0000ff" stroke-width="2.3" stroke-linejoin="bevel"/>
<polygon points="1185.46,685.86 1188.72,694.70 1199.25,694.70 1190.73,700.17 1193.98,709.01 1185.46,703.54 1176.94,709.01 1180.19,700.17 1171.67,694.70 1182.20,694.70" fill="#0000ff" stroke="#0000ff" stroke-width="2.3" stroke-linejoin="bevel"/>
<polygon points="1229.50,697.44 1232.76,706.28 1243.29,706.28 1234.77,711.75 1238.02,720.59 1229.50,715.13 1220.98,720.59 1224.23,711.75 1215.71,706.28 1226.24,706.28" fill="#0000ff" stroke="#0000ff" stroke-width="2.3" stroke-linejoin="bevel"/>
<polygon points="1273.54,709.02 1276.80,717.87 1287.33,717.87 1278.81,723.33 1282.06,732.18 1273.54,726.71 1265.02,732.18 1268.27,723.33 1259.75,717.87 1270.28,717.87" fill="#0000ff" stroke="#0000ff" stroke-width="2.3" stroke-linejoin="bevel"/>
<polygon points="1317.58,714.81 1320.84,723.66 1331.37,723.66 1322.85,729.12 1326.10,737.97 1317.58,732.50 1309.06,737.97 1312.31,729.12 1303.79,723.66 1314.32,723.66" fill="#0000ff" stroke="#0000ff" stroke-width="2.3" stroke-linejoin="bevel"/>
<polygon points="1361.62,732.19 1364.88,741.03 1375.41,741.03 1366.89,746.50 1370.14,755.34 1361.62,749.88 1353.10,755.34 1356.35,746.50 1347.83,741.03 1358.36,741.03" fill="#0000ff" stroke="#0000ff" stroke-width="2.3" stroke-linejoin="bevel"/>
<polygon points="1405.66,737.98 1408.92,746.82 1419.45,746.82 1410.93,752.29 1414.18,761.13 1405.66,755.67 1397.14,761.13 1400.39,752.29 1391.87,746.82 1402.40,746.82" fill="#0000ff" stroke="#0000ff" stroke-width="2.3" stroke-linejoin="bevel"/>
<rect x="1404.86" y="746.78" width="1.60" height="10.00" fill="#000"/>
<rect x="1398.16" y="750.98" width="15.00" height="1.00" fill="#000"/>
<polygon points="1449.70,749.56 1452.96,758.41 1463.49,758.41 1454.97,763.87 1458.22,772.72 1449.70,767.25 1441.18,772.72 1444.43,763.87 1435.91,758.41 1446.44,758.41" fill="#0000ff" stroke="#0000ff" stroke-width="2.3" stroke-linejoin="bevel"/>
<rect x="1448.90" y="758.36" width="1.60" height="10.00" fill="#000"/>
<rect x="1442.20" y="762.56" width="15.00" height="1.00" fill="#000"/>
<polygon points="1493.74,761.14 1497.00,769.99 1507.53,769.99 1499.01,775.46 1502.26,784.30 1493.74,778.83 1485.22,784.30 1488.47,775.46 1479.95,769.99 1490.48,769.99" fill="#0000ff" stroke="#0000ff" stroke-width="2.3" stroke-linejoin="bevel"/>
<rect x="1492.94" y="769.94" width="1.60" height="10.00" fill="#000"/>
<rect x="1486.24" y="774.14" width="15.00" height="1.00" fill="#000"/>
<polygon points="1537.78,766.94 1541.04,775.78 1551.57,775.78 1543.05,781.25 1546.30,790.09 1537.78,784.63 1529.26,790.09 1532.51,781.25 1523.99,775.78 1534.52,775.78" fill="#0000ff" stroke="#0000ff" stroke-width="2.3" stroke-linejoin="bevel"/>
<rect x="1536.98" y="775.74" width="1.60" height="10.00" fill="#000"/>
<rect x="1530.28" y="779.94" width="15.00" height="1.00" fill="#000"/>
<polygon points="1581.82,772.73 1585.08,781.57 1595.61,781.57 1587.09,787.04 1590.34,795.88 1581.82,790.42 1573.30,795.88 1576.55,787.04 1568.03,781.57 1578.56,781.57" fill="#0000ff" stroke="#0000ff" stroke-width="2.3" stroke-linejoin="bevel"/>
<rect x="1581.02" y="781.53" width="1.60" height="10.00" fill="#000"/>
<rect x="1574.32" y="785.73" width="15.00" height="1.00" fill="#000"/>
<polygon points="1625.86,772.73 1629.12,781.57 1639.65,781.57 1631.13,787.04 1634.38,795.88 1625.86,790.42 1617.34,795.88 1620.59,787.04 1612.07,781.57 1622.60,781.57" fill="#0000ff" stroke="#0000ff" stroke-width="2.3" stroke-linejoin="bevel"/>
<rect x="1625.06" y="781.53" width="1.60" height="10.00" fill="#000"/>
<rect x="1618.36" y="785.73" width="15.00" height="1.00" fill="#000"/>
<polygon points="1669.90,778.52 1673.16,787.36 1683.69,787.36 1675.17,792.83 1678.42,801.67 1669.90,796.21 1661.38,801.67 1664.63,792.83 1656.11,787.36 1666.64,787.36" fill="#0000ff" stroke="#0000ff" stroke-width="2.3" stroke-linejoin="bevel"/>
<rect x="1669.10" y="787.32" width="1.60" height="10.00" fill="#000"/>
<rect x="1662.40" y="791.52" width="15.00" height="1.00" fill="#000"/>
<polygon points="1684.58,784.31 1687.84,793.15 1698.37,793.16 1689.85,798.62 1693.10,807.47 1684.58,802.00 1676.06,807.47 1679.31,798.62 1670.79,793.16 1681.32,793.15" fill="#0000ff" stroke="#0000ff" stroke-width="2.3" stroke-linejoin="bevel"/>
<rect x="1683.78" y="793.11" width="1.60" height="10.00" fill="#000"/>
<rect x="1677.08" y="797.31" width="15.00" height="1.00" fill="#000"/>
<polygon points="1699.26,790.10 1702.52,798.95 1713.05,798.95 1704.53,804.41 1707.78,813.26 1699.26,807.79 1690.74,813.26 1693.99,804.41 1685.47,798.95 1696.00,798.95" fill="#0000ff" stroke="#0000ff" stroke-width="2.3" stroke-linejoin="bevel"/>
<rect x="1698.46" y="798.90" width="1.60" height="10.00" fill="#000"/>
<rect x="1691.76" y="803.10" width="15.00" height="1.00" fill="#000"/>
<polygon points="1713.94,784.31 1717.20,793.15 1727.73,793.16 1719.21,798.62 1722.46,807.47 1713.94,802.00 1705.42,807.47 1708.67,798.62 1700.15,793.16 1710.68,793.15" fill="#0000ff" stroke="#0000ff" stroke-width="2.3" stroke-linejoin="bevel"/>
<rect x="1713.14" y="793.11" width="1.60" height="10.00" fill="#000"/>
<rect x="1706.44" y="797.31" width="15.00" height="1.00" fill="#000"/>
<rect x="1337.00" y="79.25" width="30.00" height="25.50" fill="#000"/>
<ellipse cx="1352.00" cy="154.00" rx="16.50" ry="15.00" fill="#ff0000"/>
<polygon points="1352.00,199.40 1356.11,211.15 1369.40,211.15 1358.65,218.41 1362.76,230.15 1352.00,222.89 1341.24,230.15 1345.35,218.41 1334.60,211.15 1347.89,211.15" fill="#0000ff" stroke="#0000ff" stroke-width="1.75" stroke-linejoin="bevel"/>
</g>
<polygon points="1373.8,782 1362,823.8 1371,823.8 1371,827.5 1377,827.5 1377,823.8 1385.3,823.8" fill="#000"/>
<line x1="1372.6" y1="848" x2="1370.0" y2="871" stroke="#000" stroke-width="5.6"/>
<line x1="1366.1" y1="894.7" x2="1362" y2="918" stroke="#000" stroke-width="5.6"/>
<line x1="1354.9" y1="939.2" x2="1347.3" y2="963" stroke="#000" stroke-width="5.6"/>
<line x1="1338.2" y1="982.8" x2="1328.2" y2="1005.5" stroke="#000" stroke-width="5.6"/>
<line x1="1317.3" y1="1025" x2="1304.4" y2="1047.7" stroke="#000" stroke-width="5.6"/>
<line x1="1291.8" y1="1065" x2="1276.3" y2="1086.5" stroke="#000" stroke-width="5.6"/>
<g fill="#000">
<text transform="translate(162.50,1260.00) scale(1.085,1)" font-family="'Liberation Sans', sans-serif" font-size="50.5" text-anchor="end" >0.0</text>
<text transform="translate(162.50,1141.43) scale(1.085,1)" font-family="'Liberation Sans', sans-serif" font-size="50.5" text-anchor="end" >0.1</text>
<text transform="translate(162.50,1022.86) scale(1.085,1)" font-family="'Liberation Sans', sans-serif" font-size="50.5" text-anchor="end" >0.2</text>
<text transform="translate(162.50,904.29) scale(1.085,1)" font-family="'Liberation Sans', sans-serif" font-size="50.5" text-anchor="end" >0.3</text>
<text transform="translate(162.50,785.72) scale(1.085,1)" font-family="'Liberation Sans', sans-serif" font-size="50.5" text-anchor="end" >0.4</text>
<text transform="translate(162.50,667.15) scale(1.085,1)" font-family="'Liberation Sans', sans-serif" font-size="50.5" text-anchor="end" >0.5</text>
<text transform="translate(162.50,548.58) scale(1.085,1)" font-family="'Liberation Sans', sans-serif" font-size="50.5" text-anchor="end" >0.6</text>
<text transform="translate(162.50,430.01) scale(1.085,1)" font-family="'Liberation Sans', sans-serif" font-size="50.5" text-anchor="end" >0.7</text>
<text transform="translate(162.50,311.44) scale(1.085,1)" font-family="'Liberation Sans', sans-serif" font-size="50.5" text-anchor="end" >0.8</text>
<text transform="translate(162.50,192.87) scale(1.085,1)" font-family="'Liberation Sans', sans-serif" font-size="50.5" text-anchor="end" >0.9</text>
<text transform="translate(162.50,74.30) scale(1.085,1)" font-family="'Liberation Sans', sans-serif" font-size="50.5" text-anchor="end" >1.0</text>
<text transform="translate(205.85,1322.50) scale(1.085,1)" font-family="'Liberation Sans', sans-serif" font-size="50.5" text-anchor="middle" >40</text>
<text transform="translate(407.11,1322.50) scale(1.085,1)" font-family="'Liberation Sans', sans-serif" font-size="50.5" text-anchor="middle" >50</text>
<text transform="translate(608.37,1322.50) scale(1.085,1)" font-family="'Liberation Sans', sans-serif" font-size="50.5" text-anchor="middle" >60</text>
<text transform="translate(809.63,1322.50) scale(1.085,1)" font-family="'Liberation Sans', sans-serif" font-size="50.5" text-anchor="middle" >70</text>
<text transform="translate(1010.89,1322.50) scale(1.085,1)" font-family="'Liberation Sans', sans-serif" font-size="50.5" text-anchor="middle" >80</text>
<text transform="translate(1212.15,1322.50) scale(1.085,1)" font-family="'Liberation Sans', sans-serif" font-size="50.5" text-anchor="middle" >90</text>
<text transform="translate(1413.41,1322.50) scale(1.085,1)" font-family="'Liberation Sans', sans-serif" font-size="50.5" text-anchor="middle" >100</text>
<text transform="translate(1614.67,1322.50) scale(1.085,1)" font-family="'Liberation Sans', sans-serif" font-size="50.5" text-anchor="middle" >110</text>
<text transform="translate(1815.93,1322.50) scale(1.085,1)" font-family="'Liberation Sans', sans-serif" font-size="50.5" text-anchor="middle" >120</text>
<text transform="translate(921.2,1391) scale(1.072,1)" font-family="'Liberation Sans', sans-serif" font-size="64">T (<tspan font-size="42" dy="-25.2">o</tspan><tspan dy="25.2">C)</tspan></text>
<text transform="translate(57.30,735.20) rotate(-90) scale(1.13,1.0)" font-family="'Liberation Serif', sans-serif" font-size="66.8" letter-spacing="0">τ</text>
<text transform="translate(58.30,693.40) rotate(-90) scale(1.078,1.0)" font-family="'Liberation Sans', sans-serif" font-size="62.5" letter-spacing="-2.7">(ms)</text>
<text transform="translate(769.60,527.40) rotate(-90) scale(1.02,1.0)" font-family="'Liberation Serif', sans-serif" font-size="57.3" letter-spacing="0">τ</text>
<text transform="translate(768.60,492.80) rotate(-90) scale(1.0,1.0)" font-family="'Liberation Sans', sans-serif" font-size="50.5" letter-spacing="0">(</text>
<text transform="translate(768.60,477.80) rotate(-90) scale(1.22,1.0)" font-family="'Liberation Sans', sans-serif" font-size="50.5" letter-spacing="0">μ</text>
<text transform="translate(768.60,446.60) rotate(-90) scale(1.0,1.0)" font-family="'Liberation Sans', sans-serif" font-size="50.5" letter-spacing="-1">s)</text>
<text transform="translate(836.80,884.40) scale(1.065,1)" font-family="'Liberation Sans', sans-serif" font-size="40.8" text-anchor="end" >20</text>
<text transform="translate(836.80,652.30) scale(1.065,1)" font-family="'Liberation Sans', sans-serif" font-size="40.8" text-anchor="end" >40</text>
<text transform="translate(836.80,420.20) scale(1.065,1)" font-family="'Liberation Sans', sans-serif" font-size="40.8" text-anchor="end" >60</text>
<text transform="translate(836.80,188.10) scale(1.065,1)" font-family="'Liberation Sans', sans-serif" font-size="40.8" text-anchor="end" >80</text>
<text transform="translate(862.50,926.40) scale(1.065,1)" font-family="'Liberation Sans', sans-serif" font-size="40.8" text-anchor="middle" >60</text>
<text transform="translate(1009.30,926.40) scale(1.065,1)" font-family="'Liberation Sans', sans-serif" font-size="40.8" text-anchor="middle" >70</text>
<text transform="translate(1156.10,926.40) scale(1.065,1)" font-family="'Liberation Sans', sans-serif" font-size="40.8" text-anchor="middle" >80</text>
<text transform="translate(1302.90,926.40) scale(1.065,1)" font-family="'Liberation Sans', sans-serif" font-size="40.8" text-anchor="middle" >90</text>
<text transform="translate(1450.00,926.40) scale(1.065,1)" font-family="'Liberation Sans', sans-serif" font-size="40.8" text-anchor="middle" >100</text>
<text transform="translate(1596.80,926.40) scale(1.065,1)" font-family="'Liberation Sans', sans-serif" font-size="40.8" text-anchor="middle" >110</text>
<text transform="translate(1743.60,926.40) scale(1.065,1)" font-family="'Liberation Sans', sans-serif" font-size="40.8" text-anchor="middle" >120</text>
<text transform="translate(1429.30,108.50) scale(1.081,1)" font-family="'Liberation Sans', sans-serif" font-size="50.8" text-anchor="start" >Composite 1</text>
<text transform="translate(1429.30,171.00) scale(1.081,1)" font-family="'Liberation Sans', sans-serif" font-size="50.8" text-anchor="start" >Composite 2</text>
<text transform="translate(1429.30,233.50) scale(1.081,1)" font-family="'Liberation Sans', sans-serif" font-size="50.8" text-anchor="start" >Composite 3</text>
</g>
</svg>
</body>
</html>
